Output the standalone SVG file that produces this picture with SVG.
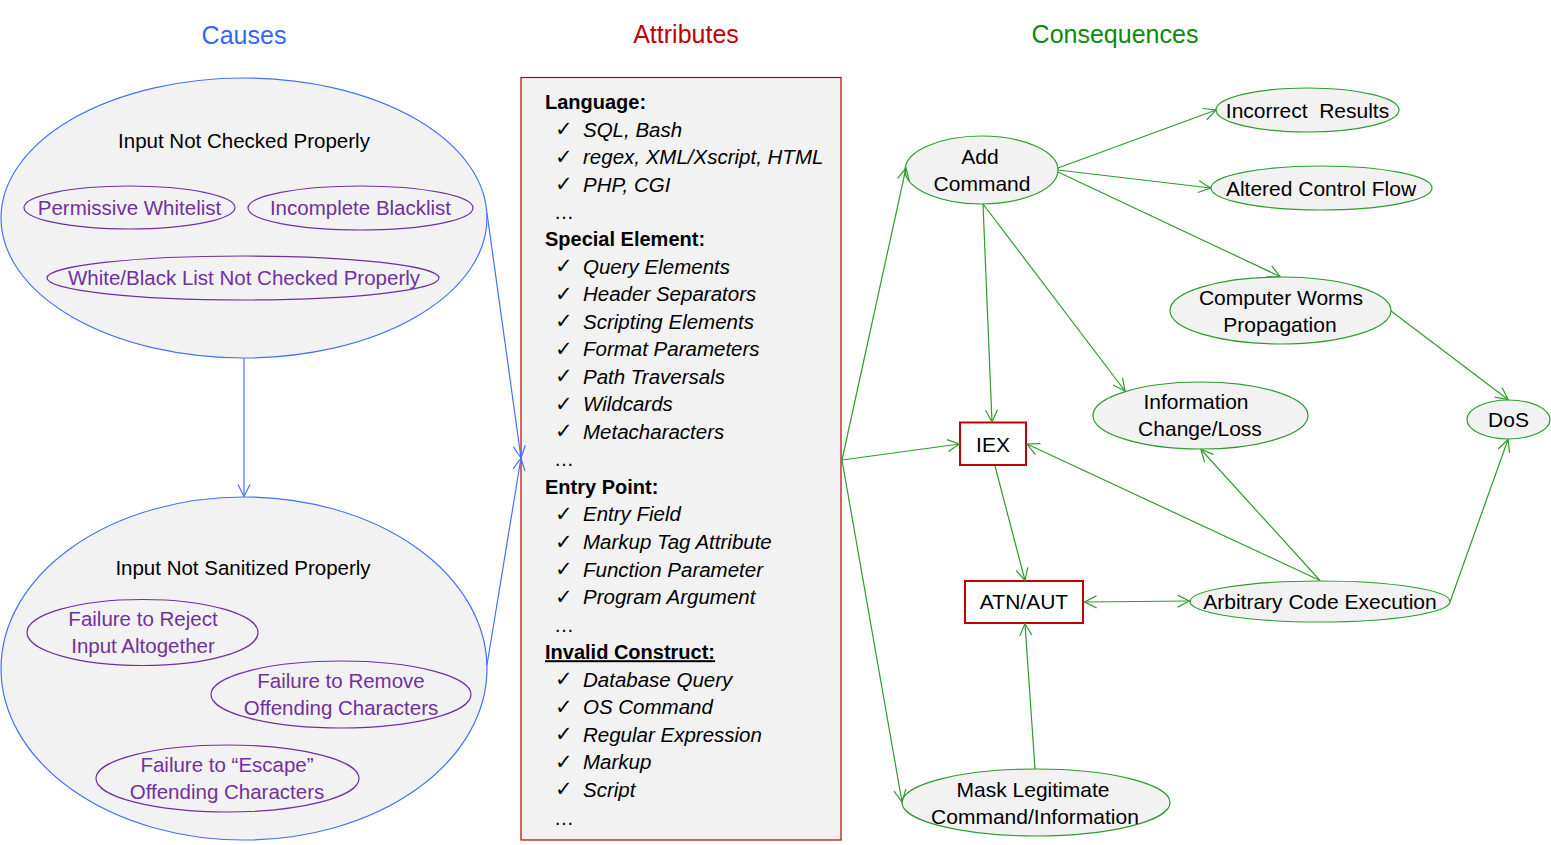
<svg xmlns="http://www.w3.org/2000/svg" width="1551" height="845" viewBox="0 0 1551 845">
<style>
text{font-family:"Liberation Sans",Arial,sans-serif}
.title{font-size:25px;text-anchor:middle}
.cause{fill:#F2F2F2;stroke:#4472F4;stroke-width:1.2}
.sub{fill:none;stroke:#7030A0;stroke-width:1.2}
.subt{font-size:20.5px;fill:#7030A0;text-anchor:middle}
.blk{font-size:20.5px;fill:#000;text-anchor:middle}
.cons{fill:#F2F2F2;stroke:#2E9B2E;stroke-width:1.2}
.ct{font-size:21px;fill:#000;text-anchor:middle}
.box{fill:#fff;stroke:#C00000;stroke-width:2}
.hd{font-size:20px;font-weight:bold}
.it{font-size:20.5px;font-style:italic}
.ck{font-family:"DejaVu Sans",sans-serif;font-size:21px}
.el{font-size:20px}
.g{stroke:#2E9B2E;stroke-width:1.2;fill:none;marker-end:url(#ag)}
.b{stroke:#4472F4;stroke-width:1.2;fill:none;marker-end:url(#ab)}
</style>
<defs>
<marker id="ag" markerUnits="userSpaceOnUse" markerWidth="16" markerHeight="16" refX="13" refY="7" orient="auto-start-reverse" viewBox="0 0 16 14">
<path d="M1,1 L13,7 L1,13" fill="none" stroke="#2E9B2E" stroke-width="1.2"/>
</marker>
<marker id="ab" markerUnits="userSpaceOnUse" markerWidth="16" markerHeight="16" refX="13" refY="7" orient="auto" viewBox="0 0 16 14">
<path d="M1,1 L13,7 L1,13" fill="none" stroke="#4472F4" stroke-width="1.2"/>
</marker>
</defs>
<rect width="1551" height="845" fill="#fff"/>

<g id="titles">
<text class="title" x="244" y="44" fill="#3366FF">Causes</text>
<text class="title" x="686" y="43" fill="#C00000">Attributes</text>
<text class="title" x="1115" y="43" fill="#0A8A0A">Consequences</text>
</g>

<g id="input-not-checked">
<ellipse class="cause" cx="244" cy="218" rx="243" ry="140"/>
<text class="blk" x="244" y="148">Input Not Checked Properly</text>
</g>
<g id="permissive-whitelist">
<ellipse class="sub" cx="129.5" cy="207.5" rx="105.5" ry="21.5"/>
<text class="subt" x="129.5" y="214.5">Permissive Whitelist</text>
</g>
<g id="incomplete-blacklist">
<ellipse class="sub" cx="360.5" cy="208" rx="112.5" ry="22"/>
<text class="subt" x="360.5" y="215">Incomplete Blacklist</text>
</g>
<g id="wb-list">
<ellipse class="sub" cx="243" cy="278" rx="196" ry="22"/>
<text class="subt" x="244" y="285">White/Black List Not Checked Properly</text>
</g>

<g id="input-not-sanitized">
<ellipse class="cause" cx="244" cy="668.5" rx="243" ry="171.5"/>
<text class="blk" x="243" y="575">Input Not Sanitized Properly</text>
</g>
<g id="fail-reject">
<ellipse class="sub" cx="142.5" cy="632.5" rx="115.5" ry="33"/>
<text class="subt" x="143" y="626">Failure to Reject</text>
<text class="subt" x="143" y="653">Input Altogether</text>
</g>
<g id="fail-remove">
<ellipse class="sub" cx="341" cy="694.5" rx="130" ry="33.5"/>
<text class="subt" x="341" y="688">Failure to Remove</text>
<text class="subt" x="341" y="715">Offending Characters</text>
</g>
<g id="fail-escape">
<ellipse class="sub" cx="227.5" cy="778.5" rx="131.5" ry="33.5"/>
<text class="subt" x="227" y="772">Failure to “Escape”</text>
<text class="subt" x="227" y="799">Offending Characters</text>
</g>

<g id="attributes">
<rect x="521" y="77.5" width="320" height="762.5" fill="#F2F2F2" stroke="#C00000" stroke-width="1.2"/>
<text class="hd" x="545" y="109">Language:</text>
<text class="ck" x="555" y="136">✓</text><text class="it" x="583" y="136.5">SQL, Bash</text>
<text class="ck" x="555" y="163.6">✓</text><text class="it" x="583" y="164">regex, XML/Xscript, HTML</text>
<text class="ck" x="555" y="191.2">✓</text><text class="it" x="583" y="191.6">PHP, CGI</text>
<text class="el" x="554" y="218.5">…</text>
<text class="hd" x="545" y="246">Special Element:</text>
<text class="ck" x="555" y="273">✓</text><text class="it" x="583" y="273.5">Query Elements</text>
<text class="ck" x="555" y="300.6">✓</text><text class="it" x="583" y="301">Header Separators</text>
<text class="ck" x="555" y="328.2">✓</text><text class="it" x="583" y="328.6">Scripting Elements</text>
<text class="ck" x="555" y="355.7">✓</text><text class="it" x="583" y="356.2">Format Parameters</text>
<text class="ck" x="555" y="383.3">✓</text><text class="it" x="583" y="383.7">Path Traversals</text>
<text class="ck" x="555" y="410.8">✓</text><text class="it" x="583" y="411.3">Wildcards</text>
<text class="ck" x="555" y="438.4">✓</text><text class="it" x="583" y="438.8">Metacharacters</text>
<text class="el" x="554" y="466">…</text>
<text class="hd" x="545" y="493.9">Entry Point:</text>
<text class="ck" x="555" y="521">✓</text><text class="it" x="583" y="521.4">Entry Field</text>
<text class="ck" x="555" y="548.5">✓</text><text class="it" x="583" y="549">Markup Tag Attribute</text>
<text class="ck" x="555" y="576">✓</text><text class="it" x="583" y="576.5">Function Parameter</text>
<text class="ck" x="555" y="603.6">✓</text><text class="it" x="583" y="604">Program Argument</text>
<text class="el" x="554" y="631.5">…</text>
<text class="hd" x="545" y="659.2" text-decoration="underline">Invalid Construct:</text>
<text class="ck" x="555" y="686.2">✓</text><text class="it" x="583" y="686.7">Database Query</text>
<text class="ck" x="555" y="713.8">✓</text><text class="it" x="583" y="714.3">OS Command</text>
<text class="ck" x="555" y="741.3">✓</text><text class="it" x="583" y="741.8">Regular Expression</text>
<text class="ck" x="555" y="768.9">✓</text><text class="it" x="583" y="769.4">Markup</text>
<text class="ck" x="555" y="796.4">✓</text><text class="it" x="583" y="796.9">Script</text>
<text class="el" x="554" y="824.5">…</text>
</g>

<g id="add-command">
<ellipse class="cons" cx="981.5" cy="170" rx="76.5" ry="34"/>
<text class="ct" x="980" y="163.5">Add</text>
<text class="ct" x="982" y="190.5">Command</text>
</g>
<g id="incorrect-results">
<ellipse class="cons" cx="1307.5" cy="110" rx="91.5" ry="22"/>
<text class="ct" x="1307.5" y="117.5" xml:space="preserve">Incorrect  Results</text>
</g>
<g id="altered-control-flow">
<ellipse class="cons" cx="1321.5" cy="188" rx="110.5" ry="22"/>
<text class="ct" x="1321" y="195.5">Altered Control Flow</text>
</g>
<g id="computer-worms">
<ellipse class="cons" cx="1280.5" cy="310.5" rx="110.5" ry="33.5"/>
<text class="ct" x="1281" y="304.5">Computer Worms</text>
<text class="ct" x="1280" y="331.5">Propagation</text>
</g>
<g id="information-change">
<ellipse class="cons" cx="1200.5" cy="415.5" rx="107.5" ry="33.5"/>
<text class="ct" x="1196" y="408.5">Information</text>
<text class="ct" x="1200" y="435.5">Change/Loss</text>
</g>
<g id="dos">
<ellipse class="cons" cx="1508.5" cy="419.5" rx="41.5" ry="19.5"/>
<text class="ct" x="1508.5" y="427">DoS</text>
</g>
<g id="iex">
<rect class="box" x="960" y="422.5" width="66" height="42.5"/>
<text class="ct" x="993" y="451.5">IEX</text>
</g>
<g id="atn-aut">
<rect class="box" x="965" y="581" width="118" height="42"/>
<text class="ct" x="1024" y="608.5">ATN/AUT</text>
</g>
<g id="arbitrary-code-execution">
<ellipse class="cons" cx="1320" cy="601.5" rx="130" ry="20.5"/>
<text class="ct" x="1320" y="609">Arbitrary Code Execution</text>
</g>
<g id="mask-legitimate">
<ellipse class="cons" cx="1036" cy="802.5" rx="134" ry="33.5"/>
<text class="ct" x="1033" y="796.5">Mask Legitimate</text>
<text class="ct" x="1035" y="823.5">Command/Information</text>
</g>

<g id="connectors">
<line class="b" x1="244" y1="358" x2="244" y2="496.5"/>
<line class="b" x1="487" y1="213" x2="521" y2="458"/>
<line class="b" x1="487" y1="665" x2="521" y2="458"/>
<line class="g" x1="842" y1="460" x2="906" y2="168"/>
<line class="g" x1="842" y1="460" x2="959.5" y2="444"/>
<line class="g" x1="842" y1="460" x2="902" y2="802"/>
<line class="g" x1="1058" y1="168" x2="1216" y2="110"/>
<line class="g" x1="1058" y1="170" x2="1210.5" y2="188"/>
<line class="g" x1="1058" y1="172" x2="1280" y2="276.5"/>
<line class="g" x1="983" y1="204" x2="992" y2="422"/>
<line class="g" x1="983" y1="204" x2="1125" y2="391"/>
<line class="g" x1="1391" y1="311" x2="1508" y2="399.5"/>
<line class="g" x1="995" y1="466" x2="1025" y2="580.5"/>
<line class="g" x1="1320" y1="580.5" x2="1027" y2="444"/>
<line class="g" x1="1320" y1="580.5" x2="1201" y2="449.5"/>
<line class="g" x1="1450" y1="602" x2="1508" y2="439.5"/>
<line class="g" x1="1084.5" y1="602" x2="1189.5" y2="601" marker-start="url(#ag)"/>
<line class="g" x1="1035" y1="769" x2="1025" y2="623.5"/>
</g>
</svg>
